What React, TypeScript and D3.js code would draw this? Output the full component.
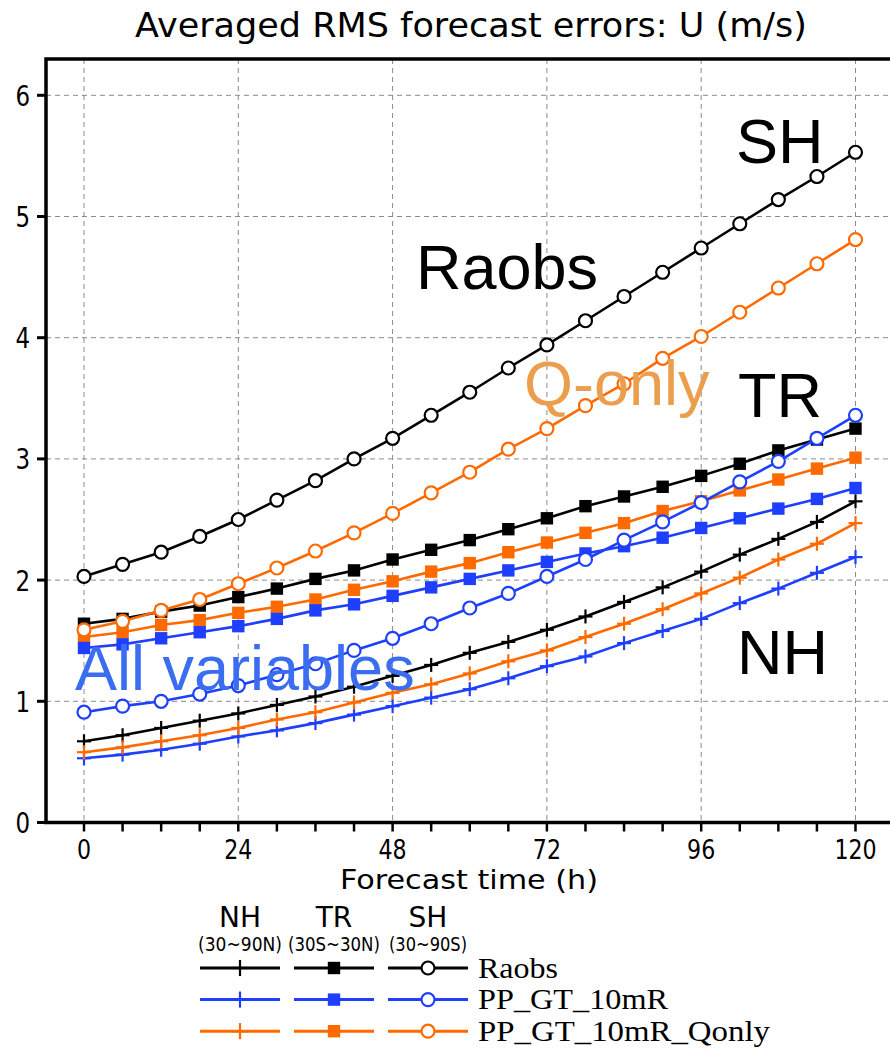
import React from 'react';
import * as d3 from 'd3';

// forecast hours (x categories)
const hours = [0, 6, 12, 18, 24, 30, 36, 42, 48, 54, 60, 66, 72, 78, 84, 90, 96, 102, 108, 114, 120];

// NH (30~90N) -> plus markers
const nhRaobs = [0.67, 0.72, 0.78, 0.84, 0.90, 0.97, 1.04, 1.12, 1.21, 1.30, 1.40, 1.49, 1.59, 1.70, 1.82, 1.94, 2.07, 2.21, 2.34, 2.48, 2.65];
const nhPP = [0.53, 0.56, 0.60, 0.65, 0.71, 0.76, 0.82, 0.89, 0.96, 1.03, 1.10, 1.19, 1.29, 1.37, 1.48, 1.58, 1.68, 1.81, 1.93, 2.06, 2.19];
const nhQonly = [0.58, 0.62, 0.67, 0.72, 0.78, 0.85, 0.91, 0.99, 1.07, 1.14, 1.23, 1.33, 1.42, 1.53, 1.64, 1.76, 1.89, 2.02, 2.17, 2.30, 2.47];

// TR (30S~30N) -> square markers
const trRaobs = [1.64, 1.68, 1.74, 1.79, 1.86, 1.93, 2.01, 2.08, 2.17, 2.25, 2.33, 2.42, 2.51, 2.61, 2.69, 2.77, 2.86, 2.96, 3.07, 3.16, 3.25];
const trPP = [1.44, 1.47, 1.52, 1.57, 1.62, 1.68, 1.75, 1.80, 1.87, 1.94, 2.01, 2.08, 2.15, 2.22, 2.28, 2.35, 2.43, 2.51, 2.59, 2.67, 2.76];
const trQonly = [1.53, 1.57, 1.63, 1.67, 1.73, 1.78, 1.84, 1.92, 1.99, 2.07, 2.14, 2.23, 2.31, 2.39, 2.47, 2.57, 2.65, 2.74, 2.83, 2.92, 3.01];

// SH (30~90S) -> circle markers
const shRaobs = [2.03, 2.13, 2.23, 2.36, 2.50, 2.66, 2.82, 3.00, 3.17, 3.36, 3.55, 3.75, 3.94, 4.14, 4.34, 4.54, 4.74, 4.94, 5.14, 5.33, 5.53];
const shPP = [0.91, 0.96, 1.00, 1.06, 1.13, 1.22, 1.31, 1.42, 1.52, 1.64, 1.77, 1.89, 2.03, 2.17, 2.33, 2.48, 2.64, 2.81, 2.98, 3.17, 3.36];
const shQonly = [1.59, 1.66, 1.75, 1.84, 1.97, 2.10, 2.24, 2.39, 2.55, 2.72, 2.89, 3.08, 3.25, 3.44, 3.62, 3.83, 4.01, 4.21, 4.41, 4.61, 4.81];

const xTicks = [0, 24, 48, 72, 96, 120];
const yTicks = [0, 1, 2, 3, 4, 5, 6];
const experiments = ['Raobs', 'PP_GT_10mR', 'PP_GT_10mR_Qonly'];
const regions = ['NH', 'TR', 'SH'];
const regionRanges = ['(30~90N)', '(30S~30N)', '(30~90S)'];

const BLACK = '#000000';
const BLUE = '#1f3fff';
const ORANGE = '#ff6a00';
const expColors = [BLACK, BLUE, ORANGE];

type Shape = 'plus' | 'square' | 'circle';
const regionShapes: Shape[] = ['plus', 'square', 'circle'];

const series: { values: number[]; color: string; shape: Shape }[] = [
  { values: nhRaobs, color: BLACK, shape: 'plus' },
  { values: nhPP, color: BLUE, shape: 'plus' },
  { values: nhQonly, color: ORANGE, shape: 'plus' },
  { values: trRaobs, color: BLACK, shape: 'square' },
  { values: trQonly, color: ORANGE, shape: 'square' },
  { values: trPP, color: BLUE, shape: 'square' },
  { values: shRaobs, color: BLACK, shape: 'circle' },
  { values: shQonly, color: ORANGE, shape: 'circle' },
  { values: shPP, color: BLUE, shape: 'circle' },
];

const W = 890;
const H = 1049;
const frameLeft = 46;
const frameTop = 59;

const x = d3.scaleLinear().domain([0, 120]).range([84, 855.5]);
const y = d3.scaleLinear().domain([0, 6]).range([822.5, 95.3]);

const sans = "'DejaVu Sans', sans-serif";
const arial = "'Liberation Sans', Arial, sans-serif";
const serif = "'Liberation Serif', 'Times New Roman', serif";

function Marker({ cx, cy, shape, color, s = 1 }: { cx: number; cy: number; shape: Shape; color: string; s?: number }) {
  if (shape === 'plus') {
    const h = 7 * s;
    return (
      <g stroke={color} strokeWidth={2.2}>
        <line x1={cx - h} x2={cx + h} y1={cy} y2={cy} />
        <line x1={cx} x2={cx} y1={cy - h} y2={cy + h} />
      </g>
    );
  }
  if (shape === 'square') {
    const h = 6.2 * s;
    return <rect x={cx - h} y={cy - h} width={2 * h} height={2 * h} fill={color} />;
  }
  return <circle cx={cx} cy={cy} r={6.5 * s} fill="#fff" stroke={color} strokeWidth={2.2} />;
}

// condensed-looking text: squeeze horizontally around its anchor
function Narrow({ x: tx, y: ty, size, sx = 0.82, anchor = 'middle', children }: { x: number; y: number; size: number; sx?: number; anchor?: string; children: React.ReactNode }) {
  return (
    <text transform={`translate(${tx},${ty}) scale(${sx},1)`} textAnchor={anchor} fontFamily={sans} fontSize={size}>
      {children}
    </text>
  );
}

export default function App() {
  const line = d3.line<number>().x((_, i) => x(hours[i])).y((d) => y(d));
  const bottom = y(0);

  const legendX = [240, 334, 428];
  const rangeW = [84, 92, 78];
  const rowY = (i: number) => 968 + i * 31.6;

  return (
    <svg width={W} height={H} style={{ position: 'absolute', left: 0, top: 0, background: '#fff' }}>
      <text x={471} y={37} textAnchor="middle" fontFamily={sans} fontSize={33} textLength={672} lengthAdjust="spacingAndGlyphs">
        Averaged RMS forecast errors: U (m/s)
      </text>

      {/* grid */}
      <g stroke="#8a8a8a" strokeWidth={1} strokeDasharray="5,4">
        {xTicks.map((t) => (
          <line key={'gx' + t} x1={x(t)} x2={x(t)} y1={frameTop} y2={bottom} />
        ))}
        {yTicks.filter((t) => t > 0).map((t) => (
          <line key={'gy' + t} x1={frameLeft} x2={W} y1={y(t)} y2={y(t)} />
        ))}
      </g>

      {/* series */}
      {series.map((s, k) => (
        <g key={k}>
          <path d={line(s.values) || ''} fill="none" stroke={s.color} strokeWidth={2.6} />
          {s.values.map((v, i) => (
            <Marker key={i} cx={x(hours[i])} cy={y(v)} shape={s.shape} color={s.color} />
          ))}
        </g>
      ))}

      {/* frame + axes */}
      <g stroke="#000" fill="none">
        <path d={`M${frameLeft},${bottom}V${frameTop}H${W + 5}`} strokeWidth={3.5} />
        <line x1={frameLeft - 2} x2={W + 5} y1={bottom} y2={bottom} strokeWidth={3.5} />
        {yTicks.map((t) => (
          <line key={'ty' + t} x1={frameLeft - 9} x2={frameLeft} y1={y(t)} y2={y(t)} strokeWidth={3} />
        ))}
        {hours.map((t) => (
          <line key={'tx' + t} x1={x(t)} x2={x(t)} y1={bottom} y2={bottom + 9} strokeWidth={2.5} />
        ))}
      </g>

      {yTicks.map((t) => (
        <Narrow key={'ly' + t} x={30} y={y(t) + 10.5} size={28} anchor="end">
          {t}
        </Narrow>
      ))}
      {xTicks.map((t) => (
        <Narrow key={'lx' + t} x={x(t)} y={859} size={27}>
          {t}
        </Narrow>
      ))}
      <text x={469} y={889} textAnchor="middle" fontFamily={sans} fontSize={27} textLength={258} lengthAdjust="spacingAndGlyphs">
        Forecast time (h)
      </text>

      {/* annotations */}
      <g fontFamily={arial} fontSize={63}>
        <text x={736} y={163}>SH</text>
        <text x={416} y={289}>Raobs</text>
        <text x={524} y={405} fill="#eb9f4e">Q-only</text>
        <text x={738} y={417}>TR</text>
        <text x={737} y={674}>NH</text>
        <text x={75} y={690} fill="#3a6df0">All variables</text>
      </g>

      {/* legend */}
      {regions.map((r, j) => {
        const cx = legendX[j];
        return (
          <g key={r}>
            <text x={cx} y={927} textAnchor="middle" fontFamily={sans} fontSize={28}>{r}</text>
            <text x={cx} y={951} textAnchor="middle" fontFamily={sans} fontSize={19} textLength={rangeW[j]} lengthAdjust="spacingAndGlyphs">
              {regionRanges[j]}
            </text>
            {experiments.map((e, i) => (
              <g key={e}>
                <line x1={cx - 40} x2={cx + 40} y1={rowY(i)} y2={rowY(i)} stroke={expColors[i]} strokeWidth={3} />
                <Marker cx={cx} cy={rowY(i)} shape={regionShapes[j]} color={expColors[i]} s={regionShapes[j] === 'plus' ? 1.15 : 1} />
              </g>
            ))}
          </g>
        );
      })}
      {experiments.map((e, i) => (
        <text key={e} x={478} y={rowY(i) + 9.5} fontFamily={serif} fontSize={29} textLength={[80, 190, 292][i]} lengthAdjust="spacingAndGlyphs">
          {e}
        </text>
      ))}
    </svg>
  );
}
